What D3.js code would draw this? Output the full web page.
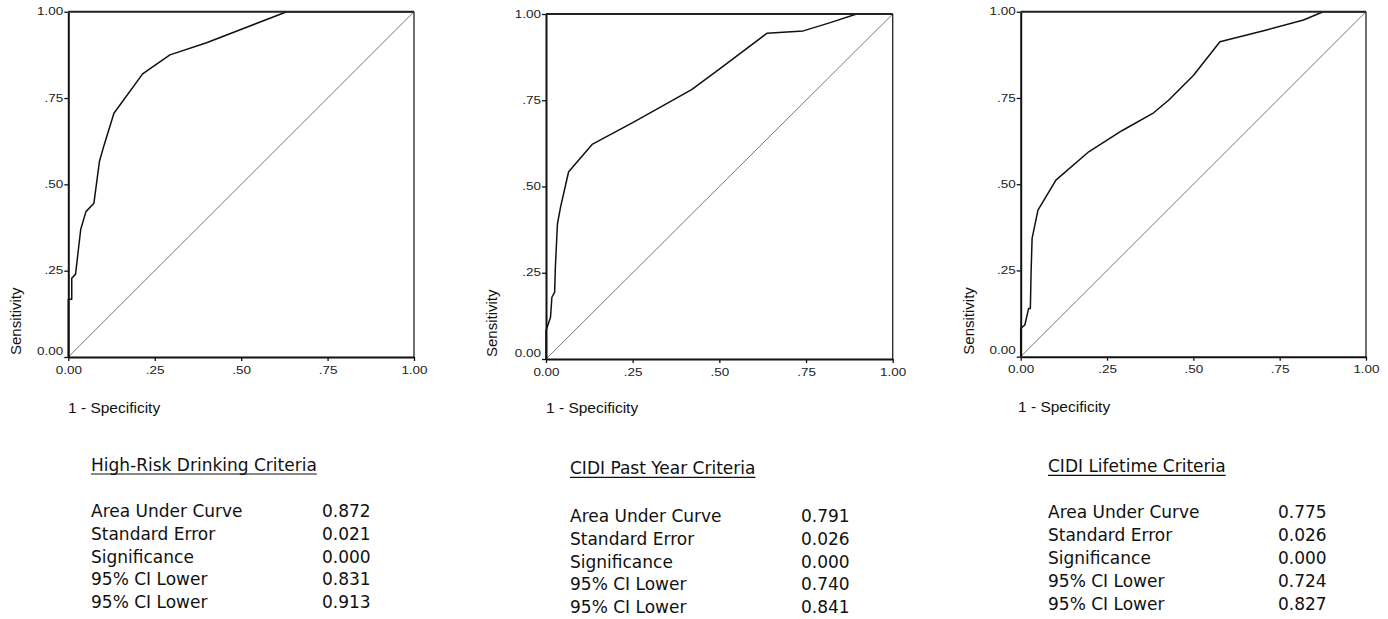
<!DOCTYPE html>
<html><head><meta charset="utf-8">
<script src="https://cdn.jsdelivr.net/npm/d3@7"></script>
<style>body{margin:0;background:#fff} svg{display:block}</style>
</head><body>
<svg id="c" width="1388" height="619"></svg>
<script>
// ---- data ----
const tickValues = [0, 0.25, 0.5, 0.75, 1];
const tickLabels = ["0.00", ".25", ".50", ".75", "1.00"];
const xAxisTitle = "1 - Specificity";
const yAxisTitle = "Sensitivity";

const fprHR  = [0, 0, 0.010, 0.010, 0.021, 0.036, 0.051, 0.074, 0.090, 0.101, 0.132, 0.215, 0.294, 0.400, 0.632, 1.0];
const sensHR = [0, 0.167, 0.167, 0.228, 0.240, 0.370, 0.421, 0.445, 0.566, 0.605, 0.706, 0.820, 0.875, 0.910, 1.0, 1.0];

const fprPY  = [0, 0, 0.013, 0.017, 0.025, 0.027, 0.033, 0.042, 0.065, 0.087, 0.133, 0.250, 0.330, 0.420, 0.500, 0.637, 0.742, 0.820, 0.896, 1.0];
const sensPY = [0, 0.082, 0.121, 0.179, 0.194, 0.266, 0.392, 0.440, 0.542, 0.568, 0.622, 0.685, 0.730, 0.781, 0.840, 0.944, 0.951, 0.975, 1.0, 1.0];

const fprLT  = [0, 0, 0.012, 0.023, 0.028, 0.030, 0.033, 0.050, 0.102, 0.197, 0.293, 0.385, 0.429, 0.500, 0.577, 0.712, 0.819, 0.876, 1.0];
const sensLT = [0, 0.082, 0.092, 0.140, 0.140, 0.242, 0.343, 0.425, 0.512, 0.594, 0.655, 0.707, 0.744, 0.815, 0.913, 0.947, 0.976, 1.0, 1.0];

const titles = ["High-Risk Drinking Criteria", "CIDI Past Year Criteria", "CIDI Lifetime Criteria"];
const statLabels = ["Area Under Curve", "Standard Error", "Significance", "95% CI Lower", "95% CI Lower"];
const statsHR = ["0.872", "0.021", "0.000", "0.831", "0.913"];
const statsPY = ["0.791", "0.026", "0.000", "0.740", "0.841"];
const statsLT = ["0.775", "0.026", "0.000", "0.724", "0.827"];

// ---- layout ----
const layout = [
  {l:68.3, t:11.7, r:414, b:357, sensX:21, specX:68, specY:413, tabX:91, valX:322, titleY:471, rowY:516.7},
  {l:546, t:14, r:892.7, b:359, sensX:497, specX:546, specY:412.7, tabX:570, valX:801, titleY:474.3, rowY:521.7},
  {l:1020.7, t:11.7, r:1366, b:356.7, sensX:974, specX:1018, specY:412.3, tabX:1048, valX:1278, titleY:472.3, rowY:518.3}
];
const series = [[fprHR, sensHR, statsHR], [fprPY, sensPY, statsPY], [fprLT, sensLT, statsLT]];
const rowStep = 22.9;
const tickScaleX = 1.35;

const svg = d3.select("#c");

series.forEach(([fpr, sens, stats], i) => {
  const L = layout[i];
  const x = d3.scaleLinear().domain([0, 1]).range([L.l, L.r]);
  const y = d3.scaleLinear().domain([0, 1]).range([L.b, L.t]);
  const g = svg.append("g");

  // diagonal reference
  g.append("line")
    .attr("x1", x(0)).attr("y1", y(0)).attr("x2", x(1)).attr("y2", y(1))
    .attr("stroke", "#555").attr("stroke-width", 0.8);

  // ROC curve
  const pts = fpr.map((v, k) => [v, sens[k]]);
  g.append("path").datum(pts)
    .attr("fill", "none").attr("stroke", "#111").attr("stroke-width", 1.5)
    .attr("stroke-linejoin", "round")
    .attr("d", d3.line().x(d => x(d[0])).y(d => y(d[1])));

  // frame: top and right
  g.append("line").attr("x1", x(0)).attr("x2", x(1)).attr("y1", y(1)).attr("y2", y(1))
    .attr("stroke", "#222").attr("stroke-width", 2);
  g.append("line").attr("x1", x(1)).attr("x2", x(1)).attr("y1", y(0)).attr("y2", y(1))
    .attr("stroke", "#222").attr("stroke-width", 1.3);

  const fmt = d => tickLabels[tickValues.indexOf(d)];

  // x axis
  const gx = g.append("g").attr("transform", `translate(0,${L.b})`)
    .call(d3.axisBottom(x).tickValues(tickValues).tickFormat(fmt).tickSize(4).tickPadding(5.5).tickSizeOuter(0));
  gx.select(".domain").attr("stroke", "#111").attr("stroke-width", 2);
  gx.selectAll(".tick line").attr("stroke", "#111").attr("stroke-width", 1.3);
  gx.selectAll(".tick text")
    .attr("font-family", "'Liberation Sans', Arial, sans-serif").attr("font-size", 10)
    .attr("fill", "#222").attr("transform", `scale(${tickScaleX},1)`)
    .attr("x", function(d){ return 0; });
  // scale about the tick origin (x=0) -> fine

  // y axis
  const gy = g.append("g").attr("transform", `translate(${L.l},0)`)
    .call(d3.axisLeft(y).tickValues(tickValues).tickFormat(fmt).tickSize(4).tickPadding(1).tickSizeOuter(0));
  gy.select(".domain").attr("stroke", "#111").attr("stroke-width", 2);
  gy.selectAll(".tick line").attr("stroke", "#111").attr("stroke-width", 1.3);
  gy.selectAll(".tick text")
    .attr("font-family", "'Liberation Sans', Arial, sans-serif").attr("font-size", 10)
    .attr("fill", "#222").attr("transform", `scale(${tickScaleX},1)`)
    .attr("x", -5 / tickScaleX)
    .attr("y", d => d === 0 ? -6 : 0);

  // axis titles
  svg.append("text")
    .attr("transform", `translate(${L.sensX},${L.b - 2}) rotate(-90)`)
    .attr("font-family", "'Liberation Sans', Arial, sans-serif").attr("font-size", 15)
    .attr("fill", "#111").text(yAxisTitle);
  svg.append("text")
    .attr("x", L.specX).attr("y", L.specY)
    .attr("font-family", "'Liberation Sans', Arial, sans-serif").attr("font-size", 15.5)
    .attr("fill", "#111").text(xAxisTitle);

  // stats table
  const tt = svg.append("text")
    .attr("x", L.tabX).attr("y", L.titleY)
    .attr("font-family", "'DejaVu Sans', Verdana, sans-serif").attr("font-size", 17)
    .attr("fill", "#111").text(titles[i]);
  const w = tt.node().getComputedTextLength();
  svg.append("line").attr("x1", L.tabX).attr("x2", L.tabX + w)
    .attr("y1", L.titleY + 3).attr("y2", L.titleY + 3)
    .attr("stroke", "#111").attr("stroke-width", 1.2);

  statLabels.forEach((lab, k) => {
    svg.append("text").attr("x", L.tabX).attr("y", L.rowY + k * rowStep)
      .attr("font-family", "'DejaVu Sans', Verdana, sans-serif").attr("font-size", 17)
      .attr("fill", "#111").text(lab);
    svg.append("text").attr("x", L.valX).attr("y", L.rowY + k * rowStep)
      .attr("font-family", "'DejaVu Sans', Verdana, sans-serif").attr("font-size", 17)
      .attr("fill", "#111").text(stats[k]);
  });
});
</script>
</body></html>
